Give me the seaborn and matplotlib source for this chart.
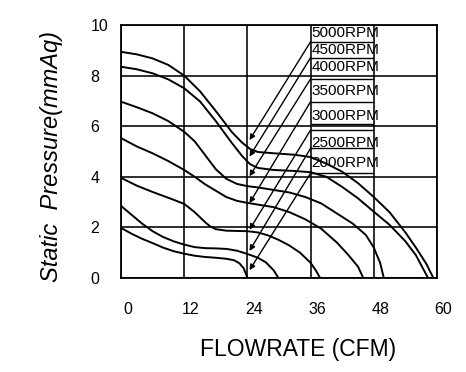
import matplotlib
matplotlib.use("Agg")
import matplotlib.pyplot as plt
import matplotlib.transforms as mtransforms
import seaborn as sns
import pandas as pd

# ---------------- data ----------------
rpm_labels = ["5000RPM", "4500RPM", "4000RPM", "3500RPM", "3000RPM", "2500RPM", "2000RPM"]

x_5000 = [0, 3, 6, 9, 12, 15, 18, 21, 23, 24.5, 26, 29, 33, 36, 39, 42, 45, 48, 51, 54, 56, 58, 59.3]
y_5000 = [8.94, 8.84, 8.68, 8.42, 8.0, 7.38, 6.6, 5.78, 5.35, 5.1, 4.98, 4.93, 4.87, 4.78, 4.52, 4.2, 3.75, 3.2, 2.6, 1.8, 1.2, 0.55, 0]

x_4500 = [0, 3, 6, 9, 12, 15, 18, 21, 23, 24.5, 26, 29, 33, 36, 39, 42, 45, 48, 51, 54, 56, 58.3]
y_4500 = [8.35, 8.25, 8.09, 7.85, 7.5, 6.98, 6.2, 5.35, 4.82, 4.5, 4.35, 4.27, 4.23, 4.18, 4.0, 3.6, 3.15, 2.62, 2.1, 1.45, 0.9, 0]

x_4000 = [0, 3, 6, 9, 12, 14, 16, 18, 20, 22, 24, 26, 29, 32, 35, 38, 41, 44, 46.5, 48, 49.2, 49.9]
y_4000 = [6.97, 6.75, 6.51, 6.2, 5.78, 5.4, 4.85, 4.3, 3.92, 3.72, 3.63, 3.58, 3.48, 3.38, 3.2, 2.95, 2.55, 2.15, 1.7, 1.2, 0.6, 0]

x_3500 = [0, 3, 6, 9, 12, 14, 16, 18, 20, 22, 24, 26, 29, 32, 35, 38, 41, 43, 45, 46]
y_3500 = [5.53, 5.2, 4.93, 4.62, 4.27, 4.0, 3.7, 3.45, 3.2, 3.05, 2.97, 2.9, 2.8, 2.6, 2.32, 1.95, 1.4, 0.95, 0.45, 0]

x_3000 = [0, 3, 6, 9, 12, 14, 16, 17, 18, 20, 22, 24, 26, 28, 30, 32, 34, 36, 37, 37.8]
y_3000 = [3.96, 3.65, 3.4, 3.17, 2.93, 2.6, 2.2, 2.03, 1.93, 1.87, 1.86, 1.85, 1.8, 1.68, 1.5, 1.28, 1.0, 0.6, 0.3, 0]

x_2500 = [0, 2, 4, 6, 8, 10, 12, 14, 16, 18, 20, 22, 24, 26, 27.5, 29, 29.9]
y_2500 = [2.85, 2.5, 2.15, 1.85, 1.62, 1.45, 1.32, 1.22, 1.18, 1.17, 1.15, 1.08, 0.95, 0.8, 0.62, 0.3, 0]

x_2000 = [0, 2, 4, 6, 8, 10, 12, 14, 16, 18, 20, 21.5, 22.5, 23.3, 23.8, 24]
y_2000 = [1.98, 1.75, 1.55, 1.38, 1.2, 1.06, 0.96, 0.88, 0.83, 0.8, 0.76, 0.7, 0.58, 0.38, 0.12, 0]

xs = [x_5000, x_4500, x_4000, x_3500, x_3000, x_2500, x_2000]
ys = [y_5000, y_4500, y_4000, y_3500, y_3000, y_2500, y_2000]

x_ticks = [0, 12, 24, 36, 48, 60]
y_ticks = [0, 2, 4, 6, 8, 10]

# label column annotations
label_text_y = [9.67, 9.01, 8.33, 7.40, 6.40, 5.35, 4.56]
label_box_y = [9.34, 8.71, 7.87, 6.97, 6.08, 5.85, 5.13, 4.14]
leader_start_y = [9.34, 8.71, 7.87, 6.97, 5.85, 5.13, 4.14]
leader_tip_y = [5.45, 4.80, 4.02, 2.96, 1.91, 1.07, 0.31]
leader_tip_x = 24.4
label_x = 36.2

# ---------------- build table ----------------
rows = []
for name, xv, yv in zip(rpm_labels, xs, ys):
    for a, b in zip(xv, yv):
        rows.append({"rpm": name, "flow": a, "pressure": b})
df = pd.DataFrame(rows)

sns.set_theme(style="white")
plt.rcParams["font.family"] = ["Liberation Sans", "DejaVu Sans"]

fig = plt.figure(figsize=(4.66, 3.72), dpi=100)
ax = fig.add_axes([121 / 466, 1 - 278 / 372, 316 / 466, 253 / 372])

sns.lineplot(data=df, x="flow", y="pressure", hue="rpm", units="rpm",
             estimator=None, sort=False,
             palette={n: "black" for n in rpm_labels}, legend=False,
             linewidth=1.4, ax=ax, zorder=3)

ax.set_xlim(0, 60)
ax.set_ylim(0, 10)
ax.set_xticks(x_ticks)
ax.set_xticklabels([str(v) for v in x_ticks])
ax.set_yticks(y_ticks)
ax.set_yticklabels([str(v) for v in y_ticks], ha="left")
ax.tick_params(axis="both", length=0, labelsize=11.5, colors="black")
ax.tick_params(axis="y", pad=21.8)
ax.tick_params(axis="x", pad=17.5)

offset = mtransforms.ScaledTranslation(6.5 / 100, 0, fig.dpi_scale_trans)
for lab in ax.get_xticklabels():
    lab.set_transform(lab.get_transform() + offset)

ax.grid(True, color="black", linewidth=1.15)
for s in ax.spines.values():
    s.set_color("black")
    s.set_linewidth(1.3)
    s.set_visible(True)

# label column
ax.hlines(label_box_y, 36, 48, color="black", linewidth=1.0, zorder=2)
for name, ty in zip(rpm_labels, label_text_y):
    ax.text(label_x, ty, name, fontsize=11, ha="left", va="center",
            color="black", zorder=4)
for sy, ty in zip(leader_start_y, leader_tip_y):
    ax.annotate("", xy=(leader_tip_x, ty), xytext=(36, sy),
                arrowprops=dict(arrowstyle="-|>", color="black", lw=1.0,
                                mutation_scale=8, shrinkA=0, shrinkB=0),
                zorder=4)

ax.set_xlabel("FLOWRATE (CFM)", fontsize=16.5, color="black")
ax.set_ylabel("Static  Pressure(mmAq)", fontsize=17, fontstyle="italic", color="black")
ax.xaxis.set_label_coords(0.561, -0.238)
ax.yaxis.set_label_coords(-0.184, 0.482)

fig.savefig("out.png", dpi=100, facecolor="white")
